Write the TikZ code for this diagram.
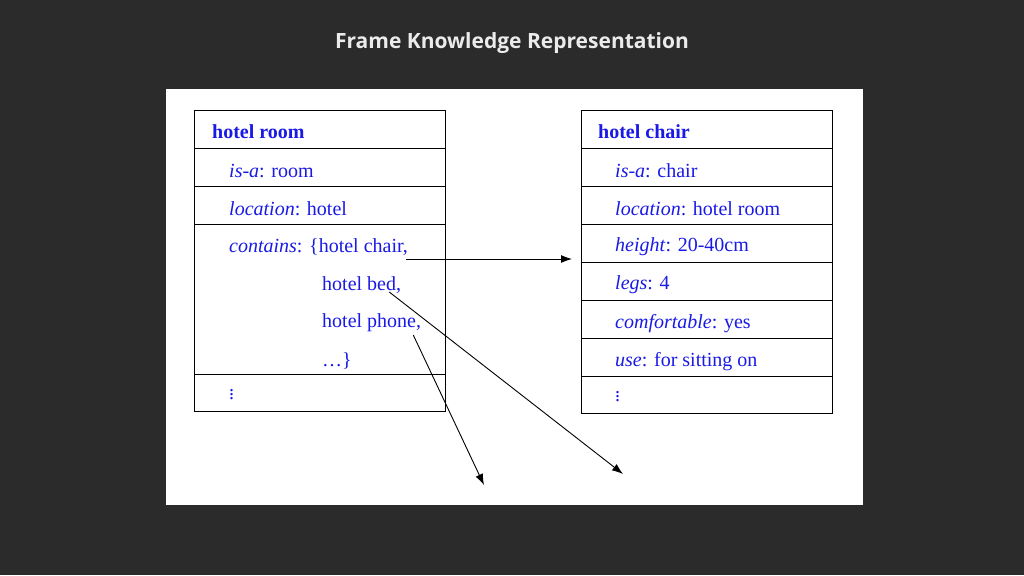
\documentclass[tikz,border=0pt]{standalone}
\usepackage{fontspec}
\setmainfont{Liberation Serif}
\newfontfamily\titlefont{Open Sans}
\usetikzlibrary{positioning, arrows.meta, calc}
\definecolor{bgdark}{HTML}{2B2B2B}
\definecolor{slotblue}{HTML}{1A1AE6}
\tikzset{
  slot/.style = {rectangle, draw=black, line width=0.9pt, minimum width=251pt, minimum height=38pt, inner sep=0pt, outer sep=0pt},
  txt/.style = {anchor=west, inner sep=0pt, text=slotblue, font=\fontsize{20}{20}\selectfont},
  head/.style = {txt, font=\fontsize{20}{20}\selectfont\bfseries},
  arrow/.style = {line width=0.9pt, -{Latex[length=11pt,width=8pt]}}
}
\begin{document}
\begin{tikzpicture}[x=1pt, y=-1pt]
\useasboundingbox (0,0) rectangle (1024,575);
\fill[bgdark] (0,0) rectangle (1024,575);
\node[font=\titlefont\bfseries\fontsize{21}{21}\selectfont, text=white!92!black] (title) at (512,43) {Frame Knowledge Representation};
\fill[white] (166,89) rectangle (863,505);

% left frame
\node (rhead) [slot, anchor=north west] at (194,110) {};
\node (risa) [slot, below=0pt of rhead] {};
\node (rloc) [slot, below=0pt of risa] {};
\node (rcon) [slot, below=0pt of rloc, minimum height=150pt] {};
\node (rmore) [slot, below=0pt of rcon, minimum height=37pt] {};
\node[head] at (212,132) {hotel room};
\node[txt] at (229,171) {\textit{is-a}: room};
\node[txt] at (229,209) {\textit{location}: hotel};
\node[txt] (chair) at (229,247) {\textit{contains}: \{hotel chair,};
\node[txt] (bed) at (322,285) {hotel bed,};
\node[txt] (phone) at (322,323) {hotel phone,};
\node[txt] at (322,361) {\dots\}};
\node[txt] at (229,392) {\vdots};

% right frame
\node (chead) [slot, anchor=north west] at (581,110) {};
\node (cisa) [slot, below=0pt of chead] {};
\node (cloc) [slot, below=0pt of cisa] {};
\node (chgt) [slot, below=0pt of cloc] {};
\node (clegs) [slot, below=0pt of chgt] {};
\node (ccomf) [slot, below=0pt of clegs] {};
\node (cuse) [slot, below=0pt of ccomf] {};
\node (cmore) [slot, below=0pt of cuse, minimum height=37pt] {};
\node[head] at (598,132) {hotel chair};
\node[txt] at (615,171) {\textit{is-a}: chair};
\node[txt] at (615,209) {\textit{location}: hotel room};
\node[txt] at (615,247) {\textit{height}: 20-40cm};
\node[txt] at (615,285) {\textit{legs}: 4};
\node[txt] at (615,324) {\textit{comfortable}: yes};
\node[txt] at (615,362) {\textit{use}: for sitting on};
\node[txt] at (615,394) {\vdots};

\coordinate (chairend) at (572,259);
\coordinate (bedend) at (623,474);
\coordinate (phoneend) at (484,485);
\draw [arrow] ($(chair.east)+(-2,12)$) -- (chairend);
\draw [arrow] ($(bed.east)+(-12,7)$) -- (bedend);
\draw [arrow] ($(phone.east)+(-8,12)$) -- (phoneend);
\end{tikzpicture}
\end{document}
